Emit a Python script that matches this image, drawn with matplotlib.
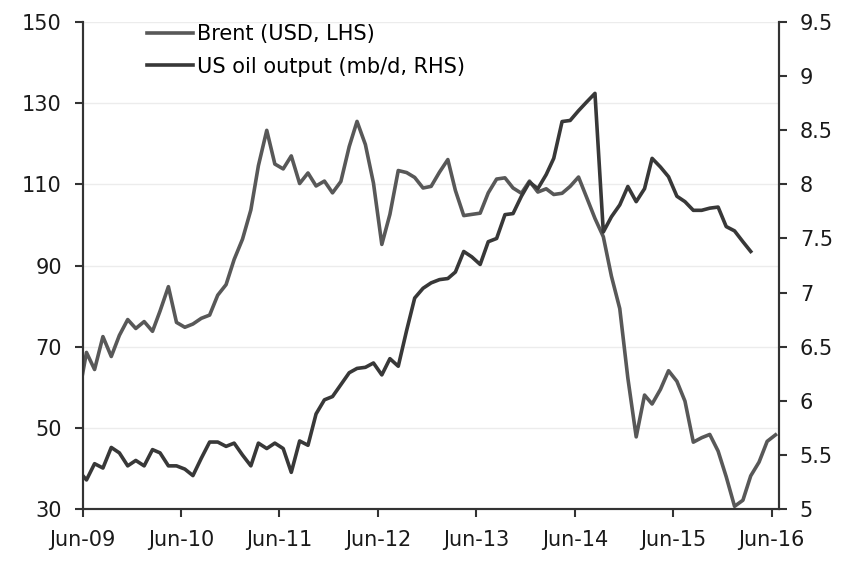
import matplotlib as mpl
import matplotlib.pyplot as plt
import matplotlib.dates as mdates
import pandas as pd

mpl.use('Agg')

# monthly values, first point May-09
brent = [57.3, 68.6, 64.4, 72.5, 67.6, 72.8, 76.7, 74.5,
         76.2, 73.8, 78.8, 84.8, 76.0, 74.8, 75.6, 77.0, 77.8, 82.7, 85.3, 91.5,
         96.5, 103.7, 114.6, 123.3, 115.0, 113.8, 117.0, 110.2, 112.8, 109.6, 110.8, 107.9,
         110.7, 119.3, 125.5, 119.8, 110.3, 95.2, 102.6, 113.4, 112.9, 111.7, 109.1, 109.5,
         113.0, 116.1, 108.5, 102.3, 102.6, 102.9, 107.9, 111.3, 111.6, 109.1, 107.8, 110.8,
         108.1, 108.9, 107.5, 107.8, 109.5, 111.8, 106.8, 101.6, 97.1, 87.4, 79.4, 62.3,
         47.8, 58.1, 55.9, 59.5, 64.1, 61.5, 56.6, 46.5, 47.6, 48.4, 44.3, 38.0,
         30.7, 32.2, 38.2, 41.6, 46.7, 48.3]

us_output = [5.36, 5.27, 5.42, 5.38, 5.57, 5.52, 5.40, 5.45,
             5.40, 5.55, 5.52, 5.40, 5.40, 5.37, 5.31, 5.47, 5.62, 5.62, 5.58, 5.61,
             5.50, 5.40, 5.61, 5.56, 5.61, 5.56, 5.34, 5.63, 5.59, 5.88, 6.01, 6.04,
             6.15, 6.26, 6.30, 6.31, 6.35, 6.24, 6.39, 6.32, 6.65, 6.95, 7.04, 7.09,
             7.12, 7.13, 7.19, 7.38, 7.33, 7.26, 7.47, 7.50, 7.72, 7.73, 7.89, 8.02,
             7.96, 8.09, 8.24, 8.58, 8.59, 8.68, 8.76, 8.84, 7.56, 7.70, 7.81, 7.98,
             7.84, 7.96, 8.24, 8.16, 8.07, 7.89, 7.84, 7.76, 7.76, 7.78, 7.79, 7.61,
             7.57, 7.47, 7.38]

labels = ['Brent (USD, LHS)', 'US oil output (mb/d, RHS)']

months = pd.date_range('2009-05-01', periods=len(brent), freq='MS') + pd.Timedelta(days=14)
ticks = pd.date_range('2009-06-01', '2016-06-01', freq='12MS')

plt.rcParams['font.family'] = ['DejaVu Sans']
plt.rcParams['font.size'] = 15

fig = plt.figure(figsize=(8.44, 5.62), dpi=100)
ax = fig.add_axes([0.098, 0.094, 0.825, 0.867])
ax2 = ax.twinx()

l1, = ax.plot(months, brent, color='#585858', lw=2.6, label=labels[0])
l2, = ax2.plot(months[:len(us_output)], us_output, color='#383838', lw=2.6, label=labels[1])

ax.set_ylim(30, 150)
ax.set_yticks(range(30, 151, 20))
ax2.set_ylim(5, 9.5)
ax2.set_yticks([5 + 0.5 * i for i in range(10)])
ax2.yaxis.set_major_formatter(mpl.ticker.FormatStrFormatter('%g'))

ax.set_xlim(pd.Timestamp('2009-06-01'), pd.Timestamp('2016-06-28'))
ax.set_xticks(ticks)
ax.xaxis.set_major_formatter(mdates.DateFormatter('%b-%y'))

for a in (ax, ax2):
    a.spines['top'].set_visible(False)
    for s in a.spines.values():
        s.set_color('#333333')
        s.set_linewidth(1.5)
    a.tick_params(colors='#333333', labelcolor='#1a1a1a', length=6, width=1.5, pad=9)
ax.tick_params(axis='x', pad=9)

ax.grid(axis='y', color='#ececec', lw=1)
ax.set_axisbelow(True)

leg = ax.legend(handles=[l1, l2], loc='upper left', bbox_to_anchor=(0.093, 0.996),
                frameon=False, fontsize=15, handlelength=2.2, handletextpad=0.2,
                labelspacing=0.62, borderpad=0, borderaxespad=0)

fig.savefig('out.png', dpi=100)
